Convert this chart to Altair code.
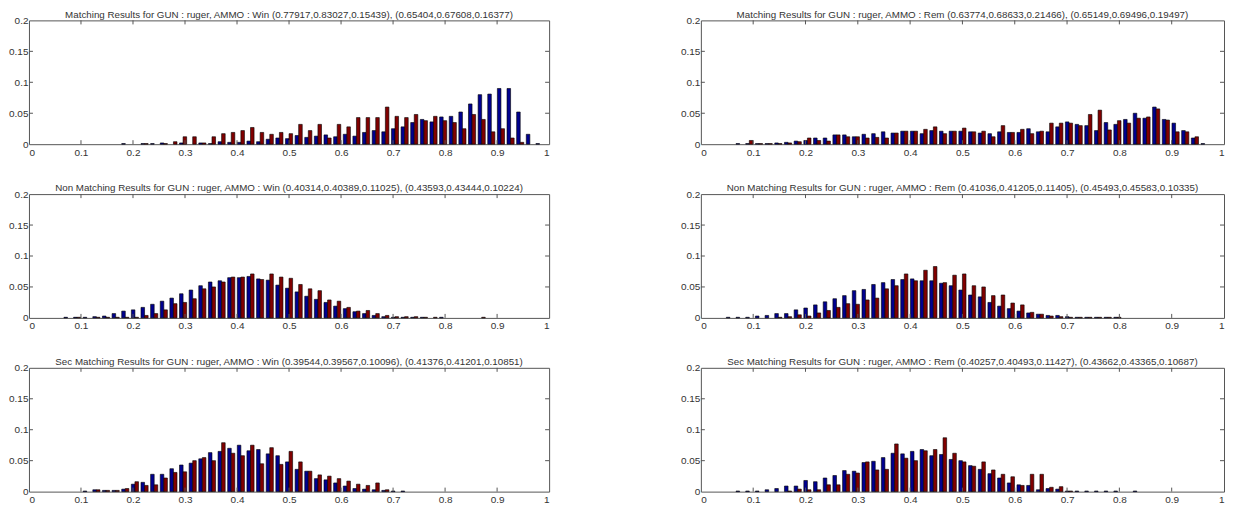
import altair as alt
import pandas as pd

# 55 bins, bin k centred at k/54
NBINS = 55

TITLES = [
    "Matching Results for GUN : ruger, AMMO : Win (0.77917,0.83027,0.15439), (0.65404,0.67608,0.16377)",
    "Matching Results for GUN : ruger, AMMO : Rem (0.63774,0.68633,0.21466), (0.65149,0.69496,0.19497)",
    "Non Matching Results for GUN : ruger, AMMO : Win (0.40314,0.40389,0.11025), (0.43593,0.43444,0.10224)",
    "Non Matching Results for GUN : ruger, AMMO : Rem (0.41036,0.41205,0.11405), (0.45493,0.45583,0.10335)",
    "Sec Matching Results for GUN : ruger, AMMO : Win (0.39544,0.39567,0.10096), (0.41376,0.41201,0.10851)",
    "Sec Matching Results for GUN : ruger, AMMO : Rem (0.40257,0.40493,0.11427), (0.43662,0.43365,0.10687)",
]

MW_BLUE = [0, 0, 0, 0, 0, 0, 0, 0, 0, 0,
           0.001, 0, 0.001, 0.001, 0.002, 0, 0.002, 0, 0.002, 0.001,
           0.004, 0.003, 0.003, 0.005, 0.004, 0.008, 0.010, 0.009, 0.014, 0.011,
           0.013, 0.015, 0.012, 0.016, 0.013, 0.019, 0.022, 0.020, 0.025, 0.028,
           0.035, 0.040, 0.036, 0.044, 0.045, 0.052, 0.065, 0.080, 0.081, 0.090,
           0.090, 0.052, 0.016, 0.001, 0]
MW_RED = [0, 0, 0, 0, 0, 0, 0, 0, 0, 0,
          0, 0, 0.001, 0, 0.001, 0.004, 0.012, 0.012, 0.002, 0.012,
          0.017, 0.019, 0.022, 0.027, 0.019, 0.016, 0.019, 0.017, 0.032, 0.022,
          0.032, 0.010, 0.032, 0.028, 0.043, 0.043, 0.043, 0.060, 0.045, 0.043,
          0.048, 0.038, 0.045, 0.038, 0.035, 0.025, 0.048, 0.040, 0.020, 0.025,
          0.010, 0.003, 0, 0, 0]

MR_BLUE = [0, 0, 0, 0, 0.001, 0.001, 0.001, 0.001, 0.002, 0.003,
           0.005, 0.006, 0.010, 0.010, 0.015, 0.015, 0.012, 0.016, 0.017, 0.020,
           0.018, 0.021, 0.021, 0.017, 0.022, 0.021, 0.021, 0.021, 0.020, 0.018,
           0.017, 0.020, 0.019, 0.019, 0.025, 0.020, 0.020, 0.028, 0.036, 0.032,
           0.030, 0.022, 0.035, 0.032, 0.040, 0.050, 0.042, 0.060, 0.040, 0.034,
           0.022, 0.010, 0.001, 0, 0]
MR_RED = [0, 0, 0, 0, 0, 0.006, 0.001, 0.001, 0.001, 0.002,
          0.004, 0.010, 0.006, 0.005, 0.015, 0.012, 0.012, 0.010, 0.011, 0.010,
          0.018, 0.021, 0.021, 0.024, 0.028, 0.017, 0.021, 0.026, 0.020, 0.021,
          0.012, 0.030, 0.019, 0.024, 0.017, 0.021, 0.034, 0.034, 0.034, 0.030,
          0.048, 0.055, 0.023, 0.038, 0.034, 0.042, 0.044, 0.057, 0.039, 0.020,
          0.020, 0.012, 0, 0, 0]

NW_BLUE = [0, 0, 0, 0, 0.001, 0.001, 0.001, 0.002, 0.003, 0.007,
           0.011, 0.013, 0.017, 0.022, 0.027, 0.032, 0.039, 0.045, 0.052, 0.058,
           0.060, 0.065, 0.065, 0.067, 0.063, 0.061, 0.053, 0.048, 0.042, 0.035,
           0.030, 0.025, 0.019, 0.015, 0.010, 0.007, 0.004, 0.002, 0.001, 0.001,
           0.001, 0.001, 0, 0.001, 0, 0, 0, 0, 0, 0,
           0, 0, 0, 0, 0]
NW_RED = [0, 0, 0, 0, 0, 0.001, 0, 0.001, 0.001, 0.001,
          0.001, 0.001, 0.004, 0.007, 0.013, 0.023, 0.025, 0.031, 0.047, 0.050,
          0.058, 0.066, 0.066, 0.071, 0.062, 0.071, 0.066, 0.064, 0.054, 0.047,
          0.044, 0.029, 0.027, 0.017, 0.011, 0.012, 0.007, 0.004, 0.002, 0.002,
          0.002, 0.001, 0.001, 0, 0, 0, 0, 0.001, 0, 0,
          0, 0, 0, 0, 0]

NR_BLUE = [0, 0, 0, 0.001, 0.001, 0.001, 0.003, 0.004, 0.007, 0.007,
           0.013, 0.016, 0.021, 0.026, 0.031, 0.036, 0.044, 0.046, 0.054, 0.057,
           0.062, 0.062, 0.063, 0.060, 0.060, 0.056, 0.052, 0.045, 0.037, 0.034,
           0.025, 0.019, 0.015, 0.011, 0.008, 0.006, 0.004, 0.004, 0.002, 0.001,
           0.001, 0.001, 0.001, 0.001, 0, 0, 0, 0, 0, 0,
           0, 0, 0, 0, 0]
NR_RED = [0, 0, 0, 0, 0, 0, 0, 0, 0.001, 0.002,
          0.005, 0.003, 0.008, 0.012, 0.017, 0.023, 0.022, 0.029, 0.032, 0.047,
          0.052, 0.071, 0.060, 0.077, 0.083, 0.057, 0.069, 0.071, 0.052, 0.050,
          0.036, 0.037, 0.024, 0.021, 0.009, 0.006, 0.003, 0.002, 0.001, 0.001,
          0.001, 0.001, 0.001, 0.001, 0, 0, 0, 0, 0, 0,
          0, 0, 0, 0, 0]

SW_BLUE = [0, 0, 0, 0, 0, 0, 0.001, 0.003, 0.002, 0.002,
           0.004, 0.012, 0.015, 0.028, 0.028, 0.037, 0.043, 0.046, 0.053, 0.063,
           0.065, 0.070, 0.075, 0.066, 0.068, 0.061, 0.058, 0.048, 0.036, 0.033,
           0.021, 0.019, 0.014, 0.009, 0.005, 0.004, 0.003, 0.002, 0.001, 0.001,
           0, 0, 0, 0, 0, 0, 0, 0, 0, 0,
           0, 0, 0, 0, 0]
SW_RED = [0, 0, 0, 0, 0, 0, 0, 0.003, 0.002, 0.002,
          0.005, 0.016, 0.010, 0.011, 0.022, 0.031, 0.032, 0.050, 0.055, 0.050,
          0.079, 0.062, 0.058, 0.075, 0.045, 0.071, 0.044, 0.065, 0.048, 0.033,
          0.027, 0.025, 0.021, 0.017, 0.012, 0.010, 0.014, 0.003, 0, 0,
          0, 0, 0, 0, 0, 0, 0, 0, 0, 0,
          0, 0, 0, 0, 0]

SR_BLUE = [0, 0, 0, 0, 0.001, 0.001, 0.001, 0.003, 0.005, 0.009,
           0.009, 0.018, 0.016, 0.022, 0.026, 0.034, 0.033, 0.047, 0.049, 0.055,
           0.062, 0.061, 0.065, 0.068, 0.058, 0.060, 0.052, 0.050, 0.042, 0.036,
           0.029, 0.022, 0.014, 0.011, 0.010, 0.003, 0.005, 0.004, 0.001, 0.001,
           0.001, 0.001, 0.001, 0.001, 0, 0.001, 0, 0, 0, 0,
           0, 0, 0, 0, 0]
SR_RED = [0, 0, 0, 0, 0, 0, 0, 0, 0, 0.001,
          0.004, 0.003, 0.003, 0.011, 0.011, 0.028, 0.030, 0.048, 0.035, 0.036,
          0.077, 0.054, 0.050, 0.066, 0.068, 0.087, 0.062, 0.048, 0.041, 0.048,
          0.035, 0.028, 0.024, 0.010, 0.028, 0.028, 0.007, 0.008, 0.001, 0,
          0, 0, 0, 0, 0, 0, 0, 0, 0, 0,
          0, 0, 0, 0, 0]

X_TICKS = [0, 0.1, 0.2, 0.3, 0.4, 0.5, 0.6, 0.7, 0.8, 0.9, 1]
Y_TICKS = [0, 0.05, 0.1, 0.15, 0.2]

BLUE = "#00008F"
RED = "#800000"
FRAME = "#555555"
TEXT = "#333333"
FONT = "Liberation Sans"

BIN_STEP = 1 / 54
BAR_W = 0.37 * BIN_STEP
H = 124

AX_X = alt.Axis(values=X_TICKS, format="~g", title=None, grid=False, domain=False,
                ticks=False, labelPadding=3, labelOverlap=False)
AX_Y = alt.Axis(values=Y_TICKS, format="~g", title=None, grid=False, domain=False,
                ticks=False, labelPadding=1, labelOverlap=False)
XS = alt.Scale(domain=[0, 1], nice=False, zero=False)
YS = alt.Scale(domain=[0, 0.2], nice=False)


def panel(title, blue, red, width):
    rows = []
    for k in range(NBINS):
        c = k * BIN_STEP
        if blue[k] > 0:
            rows.append({"x0": c - BAR_W, "x1": c, "v": blue[k], "s": "a"})
        if red[k] > 0:
            rows.append({"x0": c, "x1": c + BAR_W, "v": red[k], "s": "b"})
    df = pd.DataFrame(rows)
    bars = alt.Chart(df).mark_rect(stroke="black", strokeWidth=0.6).encode(
        x=alt.X("x0:Q", scale=XS, axis=AX_X),
        x2="x1:Q",
        y=alt.Y("v:Q", scale=YS, axis=AX_Y),
        y2=alt.datum(0),
        color=alt.Color("s:N", scale=alt.Scale(domain=["a", "b"], range=[BLUE, RED]), legend=None),
    )
    xt = alt.Chart(pd.DataFrame({"t": X_TICKS[1:-1]}))
    yt = alt.Chart(pd.DataFrame({"t": Y_TICKS[1:-1]}))
    tb = xt.mark_rule(color=FRAME).encode(x=alt.X("t:Q", scale=XS, axis=AX_X),
                                          y=alt.value(H), y2=alt.value(H - 4))
    tt = xt.mark_rule(color=FRAME).encode(x=alt.X("t:Q", scale=XS, axis=AX_X),
                                          y=alt.value(0), y2=alt.value(4))
    tl = yt.mark_rule(color=FRAME).encode(y=alt.Y("t:Q", scale=YS, axis=AX_Y),
                                          x=alt.value(0), x2=alt.value(4))
    tr = yt.mark_rule(color=FRAME).encode(y=alt.Y("t:Q", scale=YS, axis=AX_Y),
                                          x=alt.value(width), x2=alt.value(width - 4))
    return alt.layer(bars, tb, tt, tl, tr).properties(
        width=width, height=H, title=alt.Title(title))


p = [
    panel(TITLES[0], MW_BLUE, MW_RED, 521), panel(TITLES[1], MR_BLUE, MR_RED, 524),
    panel(TITLES[2], NW_BLUE, NW_RED, 521), panel(TITLES[3], NR_BLUE, NR_RED, 524),
    panel(TITLES[4], SW_BLUE, SW_RED, 521), panel(TITLES[5], SR_BLUE, SR_RED, 524),
]

HS = 130
VS = 24
chart = alt.vconcat(
    alt.hconcat(p[0], p[1], spacing=HS),
    alt.hconcat(p[2], p[3], spacing=HS),
    alt.hconcat(p[4], p[5], spacing=HS),
    spacing=VS,
).properties(
    padding={"left": 0, "top": 0, "right": 0, "bottom": 0}
).configure_view(
    stroke=FRAME, strokeWidth=1
).configure_axis(
    labelFont=FONT, labelFontSize=10, labelColor=TEXT
).configure_title(
    font=FONT, fontSize=9.8, fontWeight="normal", color=TEXT, offset=-4, anchor="middle"
).configure_concat(spacing=VS)

chart.save("out.html", embed_options={"renderer": "svg", "actions": False})
